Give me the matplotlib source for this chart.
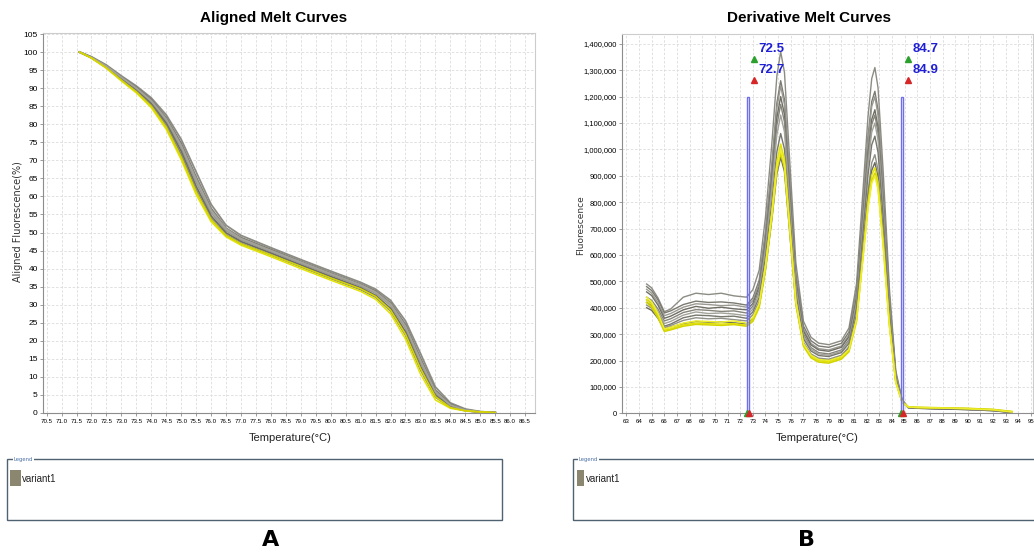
import matplotlib.pyplot as plt
import numpy as np
from matplotlib import font_manager
from matplotlib.patches import Rectangle
from matplotlib.ticker import FuncFormatter, MultipleLocator

# ---------------- data ----------------
# A: aligned melt curves (%), shared temperature grid
melt_temp = [71.6, 72.0, 72.5, 73.0, 73.5, 74.0, 74.5, 75.0, 75.5, 76.0, 76.5, 77.0, 78.0,
             79.0, 80.0, 81.0, 81.5, 82.0, 82.5, 83.0, 83.5, 84.0, 84.5, 85.0, 85.5]
melt_grey = [
    [100, 98.7, 96.4, 93.4, 90.6, 87.3, 82.6, 75.8, 66.8, 57.8, 52.0, 49.2, 45.8, 42.5, 39.3, 36.2, 34.3, 31.2, 25.5, 16.5, 7.2, 2.8, 1.1, 0.4, 0.1],
    [100, 98.6, 96.2, 93.1, 90.2, 86.8, 81.8, 74.7, 65.4, 56.7, 51.2, 48.6, 45.3, 42.0, 38.8, 35.7, 33.8, 30.5, 24.5, 15.2, 6.3, 2.4, 0.9, 0.3, 0.1],
    [100, 98.5, 96.0, 92.8, 89.8, 86.2, 81.0, 73.5, 64.0, 55.5, 50.5, 48.0, 44.8, 41.5, 38.3, 35.2, 33.2, 29.8, 23.5, 14.0, 5.5, 2.0, 0.8, 0.3, 0.1],
    [100, 98.4, 95.8, 92.5, 89.4, 85.7, 80.3, 72.5, 62.8, 54.6, 49.9, 47.5, 44.3, 41.0, 37.8, 34.7, 32.6, 29.0, 22.5, 12.9, 4.9, 1.8, 0.7, 0.2, 0.1],
    [100, 98.4, 95.7, 92.3, 89.1, 85.3, 79.6, 71.6, 61.8, 53.8, 49.3, 47.0, 43.8, 40.5, 37.3, 34.2, 32.1, 28.3, 21.6, 12.0, 4.4, 1.6, 0.6, 0.2, 0.1],
    [100, 98.5, 96.1, 93.0, 90.0, 86.5, 81.4, 74.1, 64.8, 56.2, 51.0, 48.3, 45.0, 41.8, 38.6, 35.5, 33.5, 30.2, 24.0, 14.6, 5.9, 2.2, 0.8, 0.3, 0.1],
]
melt_yellow = [
    [100, 98.3, 95.5, 92.0, 88.7, 84.6, 78.6, 70.2, 60.5, 53.0, 48.8, 46.5, 43.3, 40.0, 36.8, 33.7, 31.5, 27.5, 20.5, 10.8, 3.6, 1.3, 0.6, 0.3, 0.1],
    [100, 98.4, 95.6, 92.2, 89.0, 85.0, 79.2, 70.9, 61.3, 53.6, 49.2, 46.9, 43.8, 40.6, 37.4, 34.4, 32.3, 28.5, 21.8, 12.3, 4.5, 1.5, 0.6, 0.3, 0.1],
]

# B: derivative melt curves (fluorescence, thousands)
deriv_temp = [64.6, 65.0, 65.5, 66.0, 66.5, 67.5, 68.5, 69.5, 70.5, 71.5, 72.5,
              73.0, 73.5, 74.0, 74.5, 74.9, 75.2, 75.5, 75.9, 76.4, 77.0, 77.6, 78.2, 79.0,
              80.0,
              80.6, 81.2, 81.7, 82.1, 82.4, 82.65, 82.9, 83.3, 83.8, 84.3, 84.8,
              85.3, 86.0, 88.0, 90.0, 92.0, 93.5]
deriv_grey = [
    [490, 475, 437, 385, 395, 440, 455, 450, 455, 445, 440,
     468, 542, 744, 1020, 1278, 1370, 1292, 970, 571, 349, 288, 266, 260, 275,
     323, 491, 838, 1121, 1268, 1310, 1233, 923, 472, 162, 52, 22, 20, 17, 15, 11, 3],
    [480, 465, 430, 380, 388, 412, 425, 420, 422, 418, 410,
     437, 504, 689, 941, 1176, 1260, 1189, 896, 533, 331, 275, 255, 250, 265,
     308, 463, 784, 1045, 1181, 1220, 1148, 860, 440, 152, 50, 22, 20, 18, 15, 12, 4],
    [470, 455, 420, 370, 378, 402, 415, 412, 408, 410, 402,
     427, 493, 676, 925, 1157, 1240, 1170, 880, 520, 320, 265, 245, 240, 255,
     298, 451, 768, 1027, 1162, 1200, 1129, 846, 433, 150, 50, 23, 21, 18, 16, 12, 4],
    [460, 446, 410, 360, 368, 392, 405, 398, 402, 396, 392,
     416, 480, 656, 896, 1120, 1200, 1132, 853, 505, 312, 259, 240, 235, 250,
     290, 436, 738, 985, 1113, 1150, 1082, 811, 416, 144, 48, 21, 19, 17, 14, 10, 3],
    [440, 428, 395, 350, 358, 382, 393, 390, 386, 388, 380,
     406, 468, 640, 874, 1092, 1170, 1104, 830, 490, 301, 249, 230, 225, 240,
     279, 424, 723, 967, 1094, 1130, 1063, 797, 409, 142, 48, 22, 20, 18, 15, 11, 4],
    [430, 418, 385, 340, 348, 372, 384, 378, 380, 376, 370,
     395, 455, 620, 845, 1055, 1130, 1066, 802, 475, 293, 243, 225, 220, 235,
     273, 414, 704, 942, 1065, 1100, 1035, 776, 398, 139, 47, 21, 19, 17, 14, 10, 3],
    [420, 408, 375, 330, 338, 362, 372, 370, 366, 368, 360,
     384, 439, 591, 798, 991, 1060, 1001, 756, 452, 283, 236, 219, 215, 230,
     265, 399, 674, 900, 1017, 1050, 988, 741, 381, 133, 46, 22, 20, 17, 15, 11, 4],
    [410, 398, 367, 325, 333, 352, 362, 358, 360, 355, 350,
     373, 424, 565, 757, 936, 1000, 944, 714, 428, 269, 225, 209, 205, 220,
     252, 376, 631, 841, 949, 980, 922, 692, 356, 126, 44, 21, 19, 16, 14, 10, 3],
    [400, 390, 360, 320, 327, 340, 348, 345, 347, 343, 338,
     358, 408, 545, 733, 908, 970, 916, 693, 416, 262, 219, 204, 200, 215,
     245, 365, 613, 815, 920, 950, 894, 671, 346, 122, 43, 22, 20, 17, 15, 11, 4],
]
deriv_yellow = [
    [430, 412, 370, 315, 320, 335, 342, 340, 338, 340, 334,
     354, 408, 558, 762, 952, 1020, 962, 723, 426, 261, 216, 199, 195, 210,
     239, 357, 599, 798, 901, 930, 875, 657, 339, 120, 43, 24, 22, 20, 18, 14, 6],
    [420, 402, 362, 310, 316, 330, 337, 335, 333, 336, 330,
     348, 400, 543, 738, 920, 985, 929, 699, 413, 254, 210, 194, 190, 205,
     233, 348, 586, 780, 881, 910, 857, 643, 332, 118, 42, 25, 23, 21, 19, 15, 7],
    [440, 422, 378, 320, 326, 342, 350, 348, 346, 350, 342,
     363, 415, 558, 753, 935, 1000, 944, 712, 424, 264, 220, 204, 200, 215,
     242, 354, 585, 774, 872, 900, 847, 636, 328, 117, 42, 24, 22, 20, 17, 13, 5],
]
# Tm cursors (start, end)
peak_cursors = [(72.5, 72.7), (84.7, 84.9)]
cursor_top = 1200

names = {f.name for f in font_manager.fontManager.ttflist}
NARROW = 'Liberation Sans Narrow' if 'Liberation Sans Narrow' in names else 'Liberation Sans'

grey_cols = ['#8c8c84', '#7a7a70', '#9a9a92', '#6e6e64', '#85857b', '#a3a39b',
             '#77776d', '#909088', '#6a6a60']
yellow_cols = ['#e2e200', '#d4d400', '#eeee30']

fig = plt.figure(figsize=(10.34, 5.53), dpi=100)
ax1 = fig.add_axes([0.0419, 0.2532, 0.4755, 0.6872])
ax2 = fig.add_axes([0.6015, 0.2526, 0.3975, 0.6859])


def style_axes(ax):
    ax.grid(True, color='#dcdcdc', linestyle=(0, (3, 2)), linewidth=0.6)
    ax.set_axisbelow(True)
    for side in ('left', 'bottom'):
        ax.spines[side].set_color('#8c8c8c')
        ax.spines[side].set_linewidth(0.8)
    for side in ('top', 'right'):
        ax.spines[side].set_color('#cccccc')
        ax.spines[side].set_linewidth(0.8)
    ax.tick_params(direction='out', length=2.5, width=0.6, color='#8c8c8c', pad=1.5)


# ---- A ----
for i, ys in enumerate(melt_grey):
    ax1.plot(melt_temp, ys, color=grey_cols[i], lw=1.3)
for i, ys in enumerate(melt_yellow):
    ax1.plot(melt_temp, ys, color=yellow_cols[i], lw=1.1)
ax1.set_xlim(70.39, 86.83)
ax1.set_ylim(0, 105.3)
ax1.xaxis.set_major_locator(MultipleLocator(0.5))
ax1.yaxis.set_major_locator(MultipleLocator(5))
ax1.xaxis.set_major_formatter(FuncFormatter(lambda v, p: f'{v:.1f}'))
style_axes(ax1)
for lab in ax1.get_xticklabels():
    lab.set_fontfamily(NARROW)
    lab.set_fontsize(4.4)
for lab in ax1.get_yticklabels():
    lab.set_fontfamily('Liberation Sans')
    lab.set_fontsize(6)

# ---- B ----
for i, ys in enumerate(deriv_grey):
    ax2.plot(deriv_temp, np.array(ys) * 1000, color=grey_cols[i], lw=1.0)
for i, ys in enumerate(deriv_yellow):
    ax2.plot(deriv_temp, np.array(ys) * 1000, color=yellow_cols[i], lw=1.1)
for (t0, t1) in peak_cursors:
    ax2.add_patch(Rectangle((t0, 0), t1 - t0, cursor_top * 1000, fill=False,
                            edgecolor='#6f6fe6', lw=1.0, zorder=5))
    ax2.plot(t0 + 0.6, 1343000, marker='^', color='#2ca02c', ms=5, zorder=6)
    ax2.plot(t0 + 0.6, 1262000, marker='^', color='#d62728', ms=5, zorder=6)
    ax2.text(t0 + 0.95, 1381000, f'{t0:.1f}', color='#1f1fd6', fontsize=9.5,
             fontweight='bold', fontfamily=NARROW, va='center', ha='left', zorder=6)
    ax2.text(t0 + 0.95, 1300000, f'{t1:.1f}', color='#1f1fd6', fontsize=9.5,
             fontweight='bold', fontfamily=NARROW, va='center', ha='left', zorder=6)
    ax2.plot(t0, 0, marker='^', color='#2ca02c', ms=4, clip_on=False, zorder=6)
    ax2.plot(t1, 0, marker='^', color='#d62728', ms=4, clip_on=False, zorder=7)
ax2.set_xlim(62.65, 95.15)
ax2.set_ylim(0, 1437000)
ax2.xaxis.set_major_locator(MultipleLocator(1))
ax2.yaxis.set_major_locator(MultipleLocator(100000))
ax2.yaxis.set_major_formatter(FuncFormatter(lambda v, p: f'{int(v):,}'))
style_axes(ax2)
for lab in ax2.get_xticklabels():
    lab.set_fontfamily(NARROW)
    lab.set_fontsize(4.4)
for lab in ax2.get_yticklabels():
    lab.set_fontfamily(NARROW)
    lab.set_fontsize(5.4)

# titles and axis labels
fig.text(0.265, 0.9675, 'Aligned Melt Curves', fontsize=11, fontweight='bold',
         fontfamily=NARROW, ha='center', va='center')
fig.text(0.7824, 0.9675, 'Derivative Melt Curves', fontsize=11, fontweight='bold',
         fontfamily=NARROW, ha='center', va='center')
fig.text(0.0174, 0.5986, 'Aligned Fluorescence(%)', rotation=90, fontsize=7,
         ha='center', va='center', color='#333333')
fig.text(0.5615, 0.593, 'Fluorescence', rotation=90, fontsize=6.5,
         ha='center', va='center', color='#333333')
fig.text(0.2805, 0.208, 'Temperature(°C)', fontsize=8, fontfamily=NARROW,
         ha='center', va='center', color='#222222')
fig.text(0.790, 0.208, 'Temperature(°C)', fontsize=8, fontfamily=NARROW,
         ha='center', va='center', color='#222222')

# legend panels
for x0, w, px, pw in [(0.00706, 0.478, 10 / 1034, 10.7 / 1034),
                      (0.5539, 0.46, 576.7 / 1034, 7.5 / 1034)]:
    fig.add_artist(Rectangle((x0, 0.0591), w, 0.1103, transform=fig.transFigure,
                             fill=False, edgecolor='#4f6272', lw=1.0))
    fig.text(x0 + 0.006, 0.1694, 'Legend', fontsize=3.8, color='#4a6fa5',
             ha='left', va='center',
             bbox=dict(facecolor='white', edgecolor='none', pad=0.5))
    fig.add_artist(Rectangle((px, 1 - 486 / 553), pw, 16 / 553, transform=fig.transFigure,
                             facecolor='#8b8670', edgecolor='none'))
    fig.text(px + pw + 1.5 / 1034, 1 - 479 / 553, 'variant1', fontsize=7,
             fontfamily=NARROW, ha='left', va='center', color='#222222')

fig.text(0.262, 0.0235, 'A', fontsize=16, fontweight='bold', ha='center', va='center')
fig.text(0.7795, 0.0235, 'B', fontsize=16, fontweight='bold', ha='center', va='center')

fig.savefig('out.png', dpi=100)
